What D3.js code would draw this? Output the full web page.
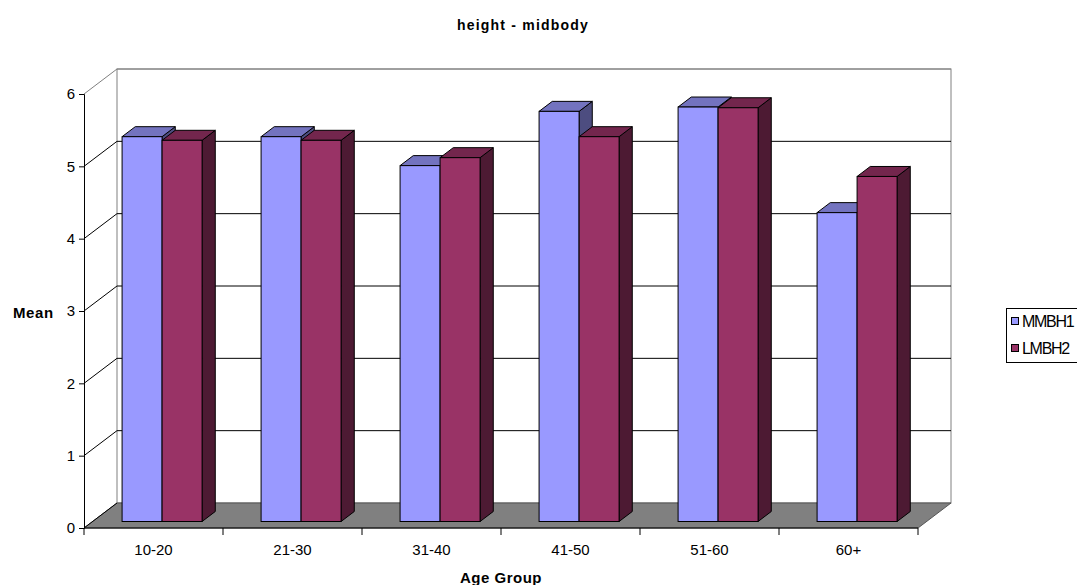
<!DOCTYPE html>
<html>
<head>
<meta charset="utf-8">
<script src="https://cdn.jsdelivr.net/npm/d3@7"></script>
<style>
  body { margin: 0; background: #fff; }
  text { font-family: Arial, "Liberation Sans", sans-serif; }
</style>
</head>
<body>
<svg id="chart" width="1077" height="585"></svg>
<script>
// data
var categories = ["10-20", "21-30", "31-40", "41-50", "51-60", "60+"];
var seriesNames = ["MMBH1", "LMBH2"];
var mmbh1 = [5.32, 5.32, 4.92, 5.67, 5.73, 4.27];
var lmbh2 = [5.27, 5.27, 5.03, 5.32, 5.72, 4.77];
var yTicks = [0, 1, 2, 3, 4, 5, 6];

var faceColors = {
  "MMBH1": { front: "#9999ff", top: "#7373bf", side: "#4d4d80" },
  "LMBH2": { front: "#993366", top: "#73264d", side: "#4d1a33" }
};

var rows = categories.map(function (c, i) {
  return { cat: c, "MMBH1": mmbh1[i], "LMBH2": lmbh2[i] };
});

var svg = d3.select("#chart");

// plot geometry (front plane + depth offset of the 3d box)
var pL = 84, pR = 918, pB = 528, pT = 94;
var DX = 33, DY = -25;          // full depth of the box
var f0 = 0.26, fd = 0.4;        // where bars sit in depth, and their depth

var x = d3.scaleBand().domain(categories).range([pL, pR]).padding(0);
var xs = d3.scaleBand().domain(seriesNames).range([0, 80]);
var y = d3.scaleLinear().domain([0, 6]).range([pB, pT]);

// back wall
var g = svg.append("g");
g.append("rect")
  .attr("x", pL + DX).attr("y", pT + DY)
  .attr("width", pR - pL).attr("height", pB - pT)
  .attr("fill", "#fff").attr("stroke", "#808080");

// gridlines: back wall + left wall
yTicks.filter(function (t) { return t > 0; }).forEach(function (t) {
  var yy = y(t);
  g.append("line")
    .attr("x1", pL + DX).attr("x2", pR + DX)
    .attr("y1", yy + DY).attr("y2", yy + DY)
    .attr("stroke", t === 6 ? "#808080" : "#000");
  g.append("line")
    .attr("x1", pL).attr("x2", pL + DX)
    .attr("y1", yy).attr("y2", yy + DY)
    .attr("stroke", t === 6 ? "#808080" : "#000");
});

// floor
g.append("polygon")
  .attr("points", [[pL, pB], [pR, pB], [pR + DX, pB + DY], [pL + DX, pB + DY]].join(" "))
  .attr("fill", "#808080").attr("stroke", "#555").attr("stroke-width", 1);
g.append("line")
  .attr("x1", pL).attr("y1", pB).attr("x2", pL + DX).attr("y2", pB + DY)
  .attr("stroke", "#000");

// bars, drawn left to right so right-hand faces overlap properly
var ox = DX * f0, oy = DY * f0, dx = DX * fd, dy = DY * fd;
var pad = (x.bandwidth() - 80) / 2;
var bars = [];
rows.forEach(function (r) {
  seriesNames.forEach(function (k) {
    bars.push({ cat: r.cat, key: k, value: r[k] });
  });
});

var bar = g.selectAll("g.bar").data(bars).enter().append("g").attr("class", "bar");
function pts(a) { return a.map(function (p) { return p.join(","); }).join(" "); }
bar.each(function (d) {
  var x0 = x(d.cat) + pad + xs(d.key) + ox;
  var x1 = x0 + xs.bandwidth();
  var yb = y(0) + oy, yt = y(d.value) + oy;
  var c = faceColors[d.key];
  var s = d3.select(this);
  s.append("polygon").attr("points", pts([[x1, yb], [x1 + dx, yb + dy], [x1 + dx, yt + dy], [x1, yt]]))
    .attr("fill", c.side).attr("stroke", "#000").attr("stroke-linejoin", "round");
  s.append("polygon").attr("points", pts([[x0, yt], [x1, yt], [x1 + dx, yt + dy], [x0 + dx, yt + dy]]))
    .attr("fill", c.top).attr("stroke", "#000").attr("stroke-linejoin", "round");
  s.append("rect").attr("x", x0).attr("y", yt).attr("width", x1 - x0).attr("height", yb - yt)
    .attr("fill", c.front).attr("stroke", "#000");
});

// y axis
svg.append("g")
  .attr("transform", "translate(" + pL + ",0)")
  .call(d3.axisLeft(y).tickValues(yTicks).tickFormat(d3.format("d")).tickSize(5).tickPadding(4))
  .call(function (a) {
    a.select(".domain").attr("stroke", "#000");
    a.selectAll("text").attr("font-size", 15).attr("font-family", "Arial, 'Liberation Sans', sans-serif").attr("fill", "#000");
  });

// x axis: labels centred, ticks on category boundaries
var xa = svg.append("g").attr("transform", "translate(0," + pB + ")");
xa.call(d3.axisBottom(x).tickSize(0).tickPadding(16))
  .call(function (a) {
    a.select(".domain").remove();
    a.selectAll("text").attr("font-size", 15).attr("font-family", "Arial, 'Liberation Sans', sans-serif").attr("fill", "#000");
  });
xa.append("line").attr("x1", pL).attr("x2", pR).attr("stroke", "#000");
xa.selectAll("line.tk").data(categories.concat(["end"])).enter().append("line")
  .attr("class", "tk")
  .attr("x1", function (d) { return d === "end" ? pR : x(d); })
  .attr("x2", function (d) { return d === "end" ? pR : x(d); })
  .attr("y1", 0).attr("y2", 7).attr("stroke", "#000");

// titles
svg.append("text").attr("x", 523).attr("y", 30).attr("text-anchor", "middle")
  .attr("font-size", 14).attr("font-weight", "bold").attr("letter-spacing", 1.2)
  .text("height - midbody");
svg.append("text").attr("x", 13).attr("y", 318)
  .attr("font-size", 15).attr("font-weight", "bold").attr("letter-spacing", 0.6)
  .text("Mean");
svg.append("text").attr("x", 501).attr("y", 583).attr("text-anchor", "middle")
  .attr("font-size", 15).attr("font-weight", "bold").attr("letter-spacing", 0.5)
  .text("Age Group");

// legend
var lg = svg.append("g");
lg.append("rect").attr("x", 1006.5).attr("y", 308.5).attr("width", 90).attr("height", 54)
  .attr("fill", "#fff").attr("stroke", "#000");
var li = lg.selectAll("g.item").data(seriesNames).enter().append("g")
  .attr("class", "item")
  .attr("transform", function (d, i) { return "translate(1011," + (321 + i * 27) + ")"; });
li.append("rect").attr("x", 0.5).attr("y", -3.5).attr("width", 7).attr("height", 7)
  .attr("fill", function (d) { return faceColors[d].front; }).attr("stroke", "#000");
li.append("text").attr("x", 11).attr("y", 6).attr("font-size", 16).attr("letter-spacing", -1.3)
  .text(function (d) { return d; });
</script>
</body>
</html>
